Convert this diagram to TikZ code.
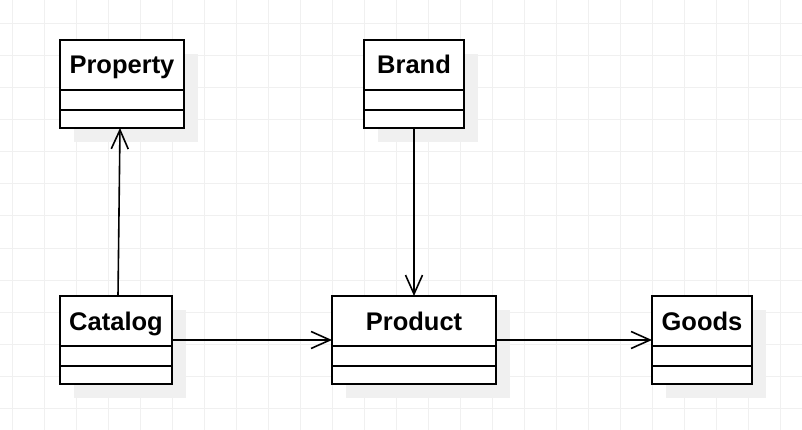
\documentclass[tikz,border=0pt]{standalone}
\usepackage{fontspec}
\setmainfont{Liberation Sans}
\usetikzlibrary{arrows.meta,calc}

\tikzset{
  gridline/.style={draw=black!6, line width=1pt},
  classshadow/.style={fill=black!6},
  classbox/.style={draw=black, line width=2pt, fill=white, inner sep=0pt, outer sep=0pt},
  classline/.style={draw=black, line width=2pt},
  classname/.style={font=\fontsize{25.5}{30}\selectfont\bfseries, inner sep=0pt, anchor=base},
  assoc/.style={draw=black, line width=1.6pt, -{Straight Barb[length=19pt, width=17pt, line width=1.6pt]}}
}

% UML class: name, left, top, right, bottom, title
\newcommand\umlclass[6]{%
  \fill[classshadow] ({#2+14},{#3+14}) rectangle ({#4+14},{#5+14});
  \node[classbox, minimum width={#4-#2}, minimum height={#5-#3}, anchor=north west] (#1) at (#2,#3) {};
  \draw[classline] ({#2},{#3+50}) -- ({#4},{#3+50});
  \draw[classline] ({#2},{#3+70}) -- ({#4},{#3+70});
  \node[classname] (#1-title) at ({(#2+#4)/2},{#3+34}) {#6};
}

\begin{document}
\begin{tikzpicture}[x=1pt, y=-1pt]
  \useasboundingbox (0,0) rectangle (802,430);
  \fill[white] (0,0) rectangle (802,430);
  % background grid
  \foreach \gx in {12,44,...,800} \draw[gridline] (\gx,0) -- (\gx,430);
  \foreach \gy in {24,56,...,430} \draw[gridline] (0,\gy) -- (802,\gy);

  % classes
  \umlclass{prop}{60}{40}{184}{128}{Property}
  \umlclass{brand}{364}{40}{464}{128}{Brand}
  \umlclass{cat}{60}{296}{172}{384}{Catalog}
  \umlclass{prod}{332}{296}{496}{384}{Product}
  \umlclass{goods}{652}{296}{752}{384}{Goods}

  % associations
  \draw[assoc] ($(cat.north west)+(58,0)$) -- ($(prop.south west)+(60,0)$);
  \draw[assoc] (brand.south) -- (prod.north);
  \draw[assoc] (cat.east) -- (prod.west);
  \draw[assoc] (prod.east) -- (goods.west);
\end{tikzpicture}
\end{document}
